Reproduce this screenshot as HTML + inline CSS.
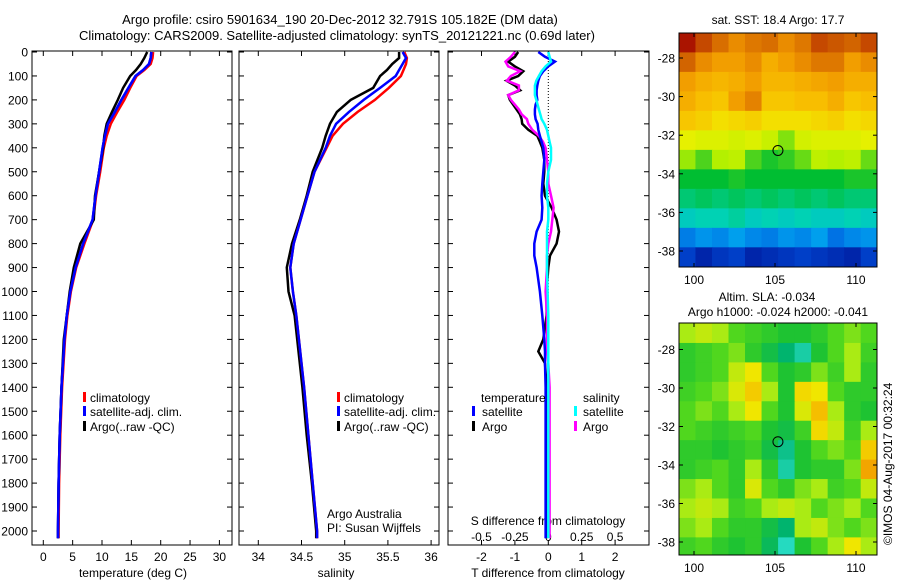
<!DOCTYPE html>
<html><head><meta charset="utf-8">
<style>
html,body{margin:0;padding:0;background:#fff;}
svg{display:block;font-family:"Liberation Sans",sans-serif;}
</style></head>
<body>
<svg id="fig" width="900" height="580" viewBox="0 0 900 580" xmlns="http://www.w3.org/2000/svg">
<text x="340" y="24" font-size="13" text-anchor="middle">Argo profile: csiro 5901634_190 20-Dec-2012 32.791S 105.182E (DM data)</text>
<text x="337" y="40" font-size="13" text-anchor="middle">Climatology: CARS2009. Satellite-adjusted climatology: synTS_20121221.nc (0.69d later)</text>
<text x="778" y="24" font-size="12" text-anchor="middle">sat. SST: 18.4 Argo: 17.7</text>
<text x="767" y="301" font-size="12" text-anchor="middle">Altim. SLA: -0.034</text>
<text x="778" y="316" font-size="12" text-anchor="middle">Argo h1000: -0.024 h2000: -0.041</text>
<text transform="translate(892,545) rotate(-90)" font-size="12">©IMOS 04-Aug-2017 00:32:24</text>
</svg>
<script>
// ---------- data ----------
const profDepth = [0,25,50,75,100,150,200,250,300,350,400,500,600,700,800,900,1000,1100,1200,1400,1600,1800,2000,2030];
const tempClim  = [18.7,18.6,18.3,17.2,15.9,14.8,13.8,12.6,11.5,10.8,10.3,9.7,9.0,8.5,7.0,5.6,4.7,4.1,3.7,3.2,2.9,2.7,2.6,2.6];
const tempSat   = [18.4,18.3,18.0,17.0,15.7,14.5,13.3,12.2,11.0,10.5,10.1,9.5,8.9,8.4,6.8,5.5,4.6,4.0,3.6,3.1,2.8,2.6,2.5,2.5];
const tempArgo  = [17.7,17.2,16.6,15.8,14.8,13.6,12.7,11.7,10.8,10.4,10.2,9.5,8.8,8.6,6.3,5.2,4.5,4.0,3.5,3.1,2.8,2.6,2.5,2.5];
const salClim   = [35.69,35.72,35.71,35.68,35.65,35.51,35.35,35.15,34.98,34.86,34.79,34.65,34.57,34.49,34.41,34.37,34.40,34.44,34.47,34.53,34.58,34.63,34.68,34.68];
const salSat    = [35.67,35.71,35.67,35.63,35.59,35.41,35.22,35.05,34.90,34.83,34.78,34.65,34.57,34.49,34.41,34.37,34.40,34.44,34.47,34.53,34.58,34.63,34.68,34.68];
const salArgo   = [35.63,35.63,35.55,35.49,35.41,35.33,35.07,34.91,34.83,34.78,34.74,34.63,34.56,34.48,34.39,34.33,34.35,34.42,34.45,34.51,34.56,34.62,34.67,34.67];

const diffDepth = [0,20,40,60,80,100,120,140,160,180,200,220,240,260,280,300,325,350,375,400,450,500,550,600,650,700,750,800,850,900,1000,1100,1200,1250,1300,1400,1600,1800,2000,2030];
const dTArgo = [-0.9,-1.0,-1.2,-1.0,-0.75,-0.9,-1.25,-1.0,-0.84,-1.2,-1.15,-1.05,-0.95,-0.85,-0.8,-0.78,-0.6,-0.33,-0.25,-0.18,-0.12,-0.12,-0.15,-0.1,0.1,0.25,0.32,0.25,0.05,0.0,-0.05,-0.05,-0.15,-0.3,-0.1,-0.05,-0.05,-0.05,-0.05,-0.05];
const dTSat  = [-0.3,-0.1,0.2,0.0,-0.15,-0.25,-0.3,-0.33,-0.35,-0.35,-0.33,-0.38,-0.4,-0.4,-0.38,-0.32,-0.3,-0.25,-0.2,-0.15,-0.12,-0.15,-0.18,-0.2,-0.18,-0.2,-0.35,-0.42,-0.42,-0.35,-0.25,-0.18,-0.12,-0.1,-0.1,-0.08,-0.08,-0.08,-0.08,-0.08];
const dSArgo = [-0.25,-0.28,-0.32,-0.3,-0.21,-0.28,-0.31,-0.22,-0.22,-0.3,-0.28,-0.25,-0.22,-0.2,-0.16,-0.15,-0.12,-0.07,-0.04,-0.02,-0.01,0.0,0.0,0.02,0.04,0.03,0.02,0.0,-0.01,-0.01,-0.02,-0.01,-0.01,-0.01,0.0,0.01,0.01,0.01,0.01,0.01];
const dSSat  = [0.0,0.01,0.02,-0.02,-0.05,-0.07,-0.09,-0.1,-0.1,-0.1,-0.09,-0.08,-0.07,-0.06,-0.05,-0.03,-0.01,0.0,0.01,0.02,0.02,0.0,-0.01,-0.01,0.0,0.0,-0.01,-0.01,-0.01,-0.01,-0.005,0,0,0,0,0,0,0,0,0];

const depthTicks = [0,100,200,300,400,500,600,700,800,900,1000,1100,1200,1300,1400,1500,1600,1700,1800,1900,2000];
const tempTicks = [0,5,10,15,20,25,30];
const salTicks = [34,34.5,35,35.5,36];
const dTTicks = [-2,-1,0,1,2];
const dSTicks = [-0.5,-0.25,0,0.25,0.5];
const dSTickLabels = ["-0.5","-0.25","0","0.25","0.5"];

const mapLonTicks = [100,105,110];
const sstLatTicks = [-28,-30,-32,-34,-36,-38];
const slaLatTicks = [-28,-30,-32,-34,-36,-38];
const gridLon0 = 99.07, gridDLon = 1.02;
const sstLat0 = -26.7, sstDLat = 1.01;
const slaLat0 = -26.65, slaDLat = 1.01;
const argoLon = 105.182, argoLat = -32.791;

const sstGrid = [
[21,20.6,20.3,20,20.2,20.3,20,20.2,20.6,20.5,20.4,20.6],
[20.4,20,19.8,19.8,20,19.6,19.8,20,20.2,20.2,19.8,20],
[19.8,19.6,19.5,19.6,19.8,19.5,19.5,19.6,19.7,19.8,19.6,19.6],
[19.6,19.4,19.3,19.8,20.1,19.3,19.3,19.4,19.4,19.6,19.3,19.4],
[19.3,19.2,19.0,19.1,19.2,19.0,19.0,19.0,19.1,19.2,19.0,19.1],
[18.7,18.6,18.6,18.5,18.6,18.4,18.0,18.5,18.6,18.6,18.6,18.7],
[18.1,17.8,18.2,18.3,17.8,17.6,17.7,17.9,18.3,18.2,18.3,17.9],
[17.5,17.5,17.5,17.6,17.5,17.5,17.5,17.5,17.5,17.5,17.6,17.6],
[17.2,17.3,17.2,17.3,17.2,17.3,17.2,17.3,17.2,17.3,17.2,17.2],
[16.8,16.9,16.9,17,16.8,16.9,16.8,16.9,16.8,16.8,16.9,16.8],
[15.9,16.1,16.0,16.2,16.0,15.9,16.1,16.0,16.2,15.8,16.0,16.1],
[15.3,15.0,15.2,15.3,15.0,15.1,15.2,15.3,15.2,15.1,15.0,15.3]];
const slaGrid = [
[0.02,0.03,0.02,0.0,-0.01,-0.02,-0.03,-0.03,-0.02,0.0,0.01,0.0],
[-0.02,-0.01,0.0,0.01,-0.02,-0.04,-0.06,-0.08,-0.03,0.0,0.02,-0.01],
[-0.02,-0.01,0.0,0.03,0.05,0.0,-0.03,-0.02,0.01,-0.01,0.02,-0.02],
[-0.01,0.0,0.01,0.04,0.07,0.02,-0.03,0.06,0.05,0.0,-0.02,-0.02],
[0.0,0.01,0.0,0.02,0.05,0.0,-0.03,0.04,0.08,0.02,-0.02,-0.03],
[0.0,-0.01,-0.02,-0.01,0.0,-0.03,-0.04,-0.01,0.06,0.03,-0.01,0.02],
[-0.02,-0.02,-0.03,-0.02,-0.01,-0.04,-0.07,-0.03,0.0,0.01,0.0,0.07],
[-0.02,-0.01,0.0,-0.02,0.02,-0.02,-0.08,-0.03,-0.02,-0.02,0.01,0.09],
[0.01,0.02,0.0,-0.02,0.04,0.0,-0.02,0.01,0.02,-0.01,0.0,0.03],
[0.02,0.03,0.02,-0.01,0.0,0.02,0.03,0.02,0.0,0.01,0.02,0.0],
[0.01,0.02,0.0,-0.02,-0.02,-0.04,-0.06,0.02,0.03,0.01,0.0,0.01],
[-0.01,0.0,-0.02,-0.03,-0.02,-0.05,-0.09,-0.03,0.0,0.02,0.05,0.02]];

// ---------- helpers ----------
const NS = "http://www.w3.org/2000/svg";
const svg = document.getElementById("fig");
function mk(tag, attrs, parent) {
  const e = document.createElementNS(NS, tag);
  for (const k in attrs) e.setAttribute(k, attrs[k]);
  (parent || svg).appendChild(e);
  return e;
}
const yTop = 51, yBot = 545;
function yDepth(d) { return 52 + 0.2395 * d; }
function xTemp(t) { return 43.3 + 5.87 * t; }
function xSal(s) { return 258.3 + 86.4 * (s - 34); }
function xDT(v) { return 548.3 + 33.4 * v; }
function xDS(v) { return 548.3 + 133.6 * v; }
function xLon(l) { return 694 + 16.2 * (l - 100); }
function ySst(l) { return 58 + 19.3 * (-28 - l); }
function ySla(l) { return 349.5 + 19.25 * (-28 - l); }

function lerpColor(stops, v) {
  if (v <= stops[0][0]) return stops[0][1];
  for (let i = 1; i < stops.length; i++) {
    if (v <= stops[i][0]) {
      const a = stops[i-1], b = stops[i];
      const f = (v - a[0]) / (b[0] - a[0]);
      const c = a[1].map((x, j) => Math.round(x + f * (b[1][j] - x)));
      return "rgb(" + c.join(",") + ")";
    }
  }
  const l = stops[stops.length-1][1];
  return "rgb(" + l.join(",") + ")";
}
function fixStops(s){ return s.map(p => [p[0], p[1]]); }
const sstStops = [[14.8,[0,20,150]],[15.5,[0,80,220]],[16.3,[0,170,240]],[16.9,[0,210,180]],[17.5,[0,190,50]],[18.2,[180,240,0]],[18.8,[240,240,0]],[19.4,[248,190,0]],[19.9,[240,150,0]],[20.4,[210,100,0]],[21,[170,20,0]]];
const slaStops = [[-0.1,[50,230,220]],[-0.06,[0,180,110]],[-0.03,[30,195,50]],[0.0,[80,215,30]],[0.02,[170,235,20]],[0.05,[240,230,0]],[0.08,[245,190,0]],[0.1,[240,140,0]]];
// make first-stop return valid rgb
function col(stops, v){ const c = lerpColor(stops, v); return Array.isArray(c) ? "rgb(" + c.join(",") + ")" : c; }

function drawBox(x0, y0, x1, y1, name) {
  const r = mk("rect", {x:x0, y:y0, width:x1-x0, height:y1-y0, fill:"none", stroke:"#000", "stroke-width":1});
  
  
}
function drawLine(xs, ys, color, name, w) {
  const pts = xs.map((x, i) => x.toFixed(1) + "," + ys[i].toFixed(1)).join(" ");
  const p = mk("polyline", {points:pts, fill:"none", stroke:color, "stroke-width":w || 2.5, "stroke-linejoin":"miter"});
  
  
}
function txt(x, y, s, size, anchor, name) {
  const t = mk("text", {x:x, y:y, "font-size":size, "text-anchor":anchor || "start"});
  t.textContent = s;
  
  
  return t;
}
function tick(x1, y1, x2, y2) {
  const l = mk("line", {x1:x1, y1:y1, x2:x2, y2:y2, stroke:"#000", "stroke-width":1});
  
  
}
function legBar(x, y, color, name) {
  const r = mk("rect", {x:x, y:y, width:3, height:10, fill:color});
  
  
}

// ---------- profile panels ----------
const panels = [[32,232],[239,439],[448,649]];
panels.forEach((p, i) => {
  drawBox(p[0], yTop, p[1], yBot, ["temperature-panel-frame","salinity-panel-frame","difference-panel-frame"][i]);
  depthTicks.forEach(d => {
    const y = yDepth(d);
    tick(p[0], y, p[0] + 5, y);
    tick(p[1], y, p[1] - 5, y);
  });
});
depthTicks.forEach(d => { txt(28, yDepth(d) + 4.5, String(d), 12, "end", "depth-tick-label"); });

// temperature panel
tempTicks.forEach(t => { const x = xTemp(t); tick(x, yBot, x, yBot - 5); tick(x, yTop, x, yTop + 5); txt(x, 561, String(t), 12, "middle", "temp-tick-label"); });
txt(133, 577, "temperature (deg C)", 12, "middle", "temperature-axis-title");
const yP = profDepth.map(yDepth);
drawLine(tempClim.map(xTemp), yP, "#ff0000", "temp-climatology-line");
drawLine(tempSat.map(xTemp), yP, "#0000ff", "temp-satellite-line");
drawLine(tempArgo.map(xTemp), yP, "#000000", "temp-argo-line");
drawLine(tempClim.map(xTemp), yP.map(y=>y), "#ff0000", "temp-climatology-line-top", 0.01);
// re-draw blue on top like reference
drawLine(tempSat.map(xTemp), yP, "#0000ff", "temp-satellite-line-overlay", 2.5);
legBar(83, 392, "#ff0000", "legend-swatch-climatology");
txt(90, 402, "climatology", 12, "start", "legend-entry-climatology");
legBar(83, 406, "#0000ff", "legend-swatch-satellite");
txt(90, 416, "satellite-adj. clim.", 12, "start", "legend-entry-satellite");
legBar(83, 421, "#000000", "legend-swatch-argo");
txt(90, 431, "Argo(..raw -QC)", 12, "start", "legend-entry-argo");

// salinity panel
salTicks.forEach(s => { const x = xSal(s); tick(x, yBot, x, yBot - 5); tick(x, yTop, x, yTop + 5); txt(x, 561, String(s), 12, "middle", "salinity-tick-label"); });
txt(336, 577, "salinity", 12, "middle", "salinity-axis-title");
drawLine(salArgo.map(xSal), yP, "#000000", "sal-argo-line");
drawLine(salClim.map(xSal), yP, "#ff0000", "sal-climatology-line");
drawLine(salSat.map(xSal), yP, "#0000ff", "sal-satellite-line");
legBar(337, 392, "#ff0000", "legend-swatch-climatology-s");
txt(344, 402, "climatology", 12, "start", "legend-entry-climatology-s");
legBar(337, 406, "#0000ff", "legend-swatch-satellite-s");
txt(344, 416, "satellite-adj. clim.", 12, "start", "legend-entry-satellite-s");
legBar(337, 421, "#000000", "legend-swatch-argo-s");
txt(344, 431, "Argo(..raw -QC)", 12, "start", "legend-entry-argo-s");
txt(327, 518, "Argo Australia", 12, "start", "credit-argo-australia");
txt(327, 532, "PI: Susan Wijffels", 12, "start", "credit-pi");

// difference panel
dTTicks.forEach(v => { const x = xDT(v); tick(x, yBot, x, yBot - 5); tick(x, yTop, x, yTop + 5); txt(x, 561, String(v), 12, "middle", "dT-tick-label"); });
dSTicks.forEach((v, i) => { txt(xDS(v), 541, dSTickLabels[i], 12, "middle", "dS-tick-label"); });
txt(548, 525, "S difference from climatology", 12, "middle", "s-diff-axis-title");
txt(548, 577, "T difference from climatology", 12, "middle", "t-diff-axis-title");
const zl = mk("line", {x1:xDT(0), y1:yDepth(0), x2:xDT(0), y2:yDepth(1290), stroke:"#000", "stroke-width":1, "stroke-dasharray":"1,2"});


const yD = diffDepth.map(yDepth);
drawLine(dTArgo.map(xDT), yD, "#000000", "dT-argo-line");
drawLine(dSArgo.map(xDS), yD, "#ff00ff", "dS-argo-line");
drawLine(dTSat.map(xDT), yD, "#0000ff", "dT-satellite-line");
drawLine(dSSat.map(xDS), yD, "#00ffff", "dS-satellite-line");
txt(481, 402, "temperature", 12, "start", "legend-title-temperature");
txt(583, 402, "salinity", 12, "start", "legend-title-salinity");
legBar(472, 406, "#0000ff", "legend-swatch-t-satellite");
txt(482, 416, "satellite", 12, "start", "legend-entry-t-satellite");
legBar(472, 421, "#000000", "legend-swatch-t-argo");
txt(482, 431, "Argo", 12, "start", "legend-entry-t-argo");
legBar(574, 406, "#00ffff", "legend-swatch-s-satellite");
txt(583, 416, "satellite", 12, "start", "legend-entry-s-satellite");
legBar(574, 421, "#ff00ff", "legend-swatch-s-argo");
txt(583, 431, "Argo", 12, "start", "legend-entry-s-argo");

// ---------- maps ----------
function drawMap(grid, stops, lat0, dLat, yFn, box, latTicks, name) {
  const cp = mk("clipPath", {id:name + "-clip"});
  mk("rect", {x:box[0], y:box[1], width:box[2]-box[0], height:box[3]-box[1]}, cp);
  const g = mk("g", {"clip-path":"url(#" + name + "-clip)"});
  
  
  grid.forEach((row, r) => row.forEach((v, c) => {
    const x0 = xLon(gridLon0 + c * gridDLon), x1 = xLon(gridLon0 + (c + 1) * gridDLon);
    const y0 = yFn(lat0 - r * dLat), y1 = yFn(lat0 - (r + 1) * dLat);
    const cell = mk("rect", {x:x0.toFixed(2), y:y0.toFixed(2), width:(x1-x0+0.6).toFixed(2), height:(y1-y0+0.6).toFixed(2), fill:col(stops, v)}, g);
    
    
  }));
  drawBox(box[0], box[1], box[2], box[3], name + "-frame");
  mapLonTicks.forEach(l => { const x = xLon(l); tick(x, box[3], x, box[3]-4); tick(x, box[1], x, box[1]+4); txt(x, box[3] + 17, String(l), 12, "middle", name + "-lon-label"); });
  latTicks.forEach(l => { const y = yFn(l); tick(box[0], y, box[0]+4, y); tick(box[2], y, box[2]-4, y); txt(box[0] - 4, y + 4.5, String(l), 12, "end", name + "-lat-label"); });
  const c = mk("circle", {cx:xLon(argoLon), cy:yFn(argoLat), r:5, fill:"none", stroke:"#000", "stroke-width":1});
  
  
}
drawMap(sstGrid, sstStops, sstLat0, sstDLat, ySst, [679,33,877,267], sstLatTicks, "sst-map");
drawMap(slaGrid, slaStops, slaLat0, slaDLat, ySla, [679,323,877,555], slaLatTicks, "sla-map");
</script>
</body></html>
